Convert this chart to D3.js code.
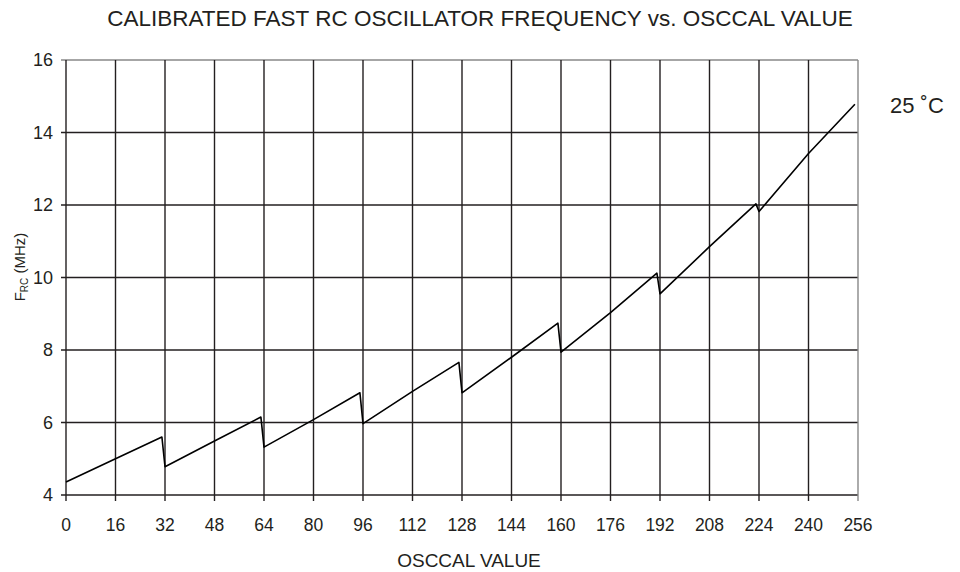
<!DOCTYPE html>
<html>
<head>
<meta charset="utf-8">
<script src="https://cdn.jsdelivr.net/npm/d3@7"></script>
<style>
  body { margin: 0; background: #fff; }
  text { font-family: "Liberation Sans", Arial, sans-serif; fill: #231f20; }
</style>
</head>
<body>
<div id="chart"></div>
<script>
  // OSCCAL value vs calibrated RC frequency (MHz)
  var osccal = [0, 16, 31, 32, 48, 63, 64, 80, 95, 96, 112, 127, 128, 144, 159, 160, 176, 191, 192, 208, 223, 224, 240, 255];
  var freq   = [4.36, 5.0, 5.6, 4.78, 5.49, 6.15, 5.32, 6.08, 6.82, 5.97, 6.86, 7.66, 6.82, 7.8, 8.74, 7.94, 9.03, 10.12, 9.55, 10.85, 12.03, 11.82, 13.42, 14.78];
  var xTicks = d3.range(0, 257, 16);
  var yTicks = [4, 6, 8, 10, 12, 14, 16];

  var width = 960, height = 572;
  var margin = {top: 60, right: 102, bottom: 77, left: 66};

  var svg = d3.select("#chart").append("svg")
      .attr("width", width)
      .attr("height", height);

  var x = d3.scaleLinear().domain([0, 256]).range([margin.left, width - margin.right]);
  var y = d3.scaleLinear().domain([4, 16]).range([height - margin.bottom, margin.top]);

  // grid
  svg.append("g")
    .selectAll("line")
    .data(yTicks)
    .enter().append("line")
      .attr("x1", x(0) - 5)
      .attr("x2", x(256))
      .attr("y1", function(d) { return y(d); })
      .attr("y2", function(d) { return y(d); })
      .attr("stroke", function(d) { return d == 16 ? "#888" : "#231f20"; })
      .attr("stroke-width", 1.4);

  svg.append("g")
    .selectAll("line")
    .data(xTicks)
    .enter().append("line")
      .attr("x1", function(d) { return x(d); })
      .attr("x2", function(d) { return x(d); })
      .attr("y1", y(16))
      .attr("y2", y(4) + 6)
      .attr("stroke", function(d) { return d == 256 ? "#888" : "#231f20"; })
      .attr("stroke-width", 1.4);

  // tick labels
  svg.append("g")
    .selectAll("text")
    .data(yTicks)
    .enter().append("text")
      .attr("x", x(0) - 13)
      .attr("y", function(d) { return y(d); })
      .attr("dy", "0.36em")
      .attr("text-anchor", "end")
      .style("font-size", "18px")
      .text(function(d) { return d; });

  svg.append("g")
    .selectAll("text")
    .data(xTicks)
    .enter().append("text")
      .attr("x", function(d) { return x(d); })
      .attr("y", 531)
      .attr("text-anchor", "middle")
      .style("font-size", "17.5px")
      .text(function(d) { return d; });

  // curve
  var pts = osccal.map(function(v, i) { return [v, freq[i]]; });
  svg.append("path")
      .datum(pts)
      .attr("fill", "none")
      .attr("stroke", "#000")
      .attr("stroke-width", 1.6)
      .attr("stroke-linejoin", "round")
      .attr("d", d3.line()
        .x(function(d) { return x(d[0]); })
        .y(function(d) { return y(d[1]); }));

  // titles
  svg.append("text")
      .attr("x", 480)
      .attr("y", 26)
      .attr("text-anchor", "middle")
      .style("font-size", "22.5px")
      .text("CALIBRATED FAST RC OSCILLATOR FREQUENCY vs. OSCCAL VALUE");

  svg.append("text")
      .attr("x", 469)
      .attr("y", 567)
      .attr("text-anchor", "middle")
      .style("font-size", "19px")
      .text("OSCCAL VALUE");

  var yl = svg.append("text")
      .attr("transform", "translate(25,267) rotate(-90)")
      .attr("text-anchor", "middle")
      .style("font-size", "15px");
  yl.append("tspan").text("F");
  yl.append("tspan").attr("dy", 3).style("font-size", "10px").text("RC");
  yl.append("tspan").attr("dy", -3).text(" (MHz)");

  svg.append("text")
      .attr("x", 890)
      .attr("y", 113)
      .style("font-size", "22px")
      .text("25 ˚C");
</script>
</body>
</html>
